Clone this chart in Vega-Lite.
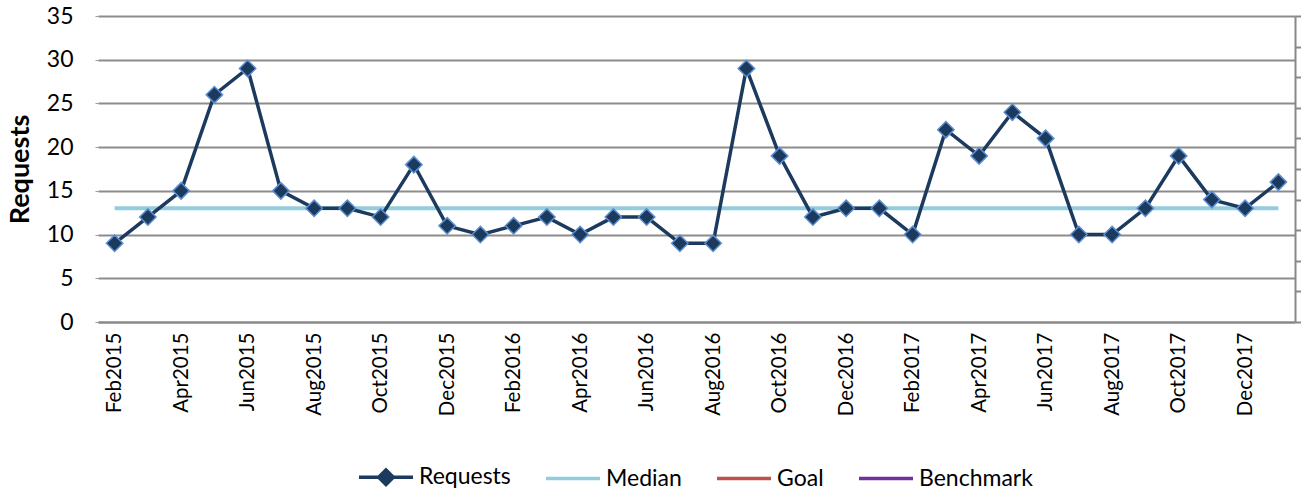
{
  "$schema": "https://vega.github.io/schema/vega-lite/v6.json",
  "width": 1197,
  "height": 306,
  "autosize": "none",
  "padding": {"left": 98, "top": 16, "right": 6, "bottom": 169},
  "config": {
    "font": "Lato",
    "view": {"stroke": null},
    "axis": {"labelFont": "Lato", "titleFont": "Lato", "labelColor": "#000000", "titleColor": "#000000"}
  },
  "datasets": {
    "requests": [
      {"month": "Feb2015", "series": "Requests", "value": 9},
      {"month": "Mar2015", "series": "Requests", "value": 12},
      {"month": "Apr2015", "series": "Requests", "value": 15},
      {"month": "May2015", "series": "Requests", "value": 26},
      {"month": "Jun2015", "series": "Requests", "value": 29},
      {"month": "Jul2015", "series": "Requests", "value": 15},
      {"month": "Aug2015", "series": "Requests", "value": 13},
      {"month": "Sep2015", "series": "Requests", "value": 13},
      {"month": "Oct2015", "series": "Requests", "value": 12},
      {"month": "Nov2015", "series": "Requests", "value": 18},
      {"month": "Dec2015", "series": "Requests", "value": 11},
      {"month": "Jan2016", "series": "Requests", "value": 10},
      {"month": "Feb2016", "series": "Requests", "value": 11},
      {"month": "Mar2016", "series": "Requests", "value": 12},
      {"month": "Apr2016", "series": "Requests", "value": 10},
      {"month": "May2016", "series": "Requests", "value": 12},
      {"month": "Jun2016", "series": "Requests", "value": 12},
      {"month": "Jul2016", "series": "Requests", "value": 9},
      {"month": "Aug2016", "series": "Requests", "value": 9},
      {"month": "Sep2016", "series": "Requests", "value": 29},
      {"month": "Oct2016", "series": "Requests", "value": 19},
      {"month": "Nov2016", "series": "Requests", "value": 12},
      {"month": "Dec2016", "series": "Requests", "value": 13},
      {"month": "Jan2017", "series": "Requests", "value": 13},
      {"month": "Feb2017", "series": "Requests", "value": 10},
      {"month": "Mar2017", "series": "Requests", "value": 22},
      {"month": "Apr2017", "series": "Requests", "value": 19},
      {"month": "May2017", "series": "Requests", "value": 24},
      {"month": "Jun2017", "series": "Requests", "value": 21},
      {"month": "Jul2017", "series": "Requests", "value": 10},
      {"month": "Aug2017", "series": "Requests", "value": 10},
      {"month": "Sep2017", "series": "Requests", "value": 13},
      {"month": "Oct2017", "series": "Requests", "value": 19},
      {"month": "Nov2017", "series": "Requests", "value": 14},
      {"month": "Dec2017", "series": "Requests", "value": 13},
      {"month": "Jan2018", "series": "Requests", "value": 16}
    ],
    "median": [
      {"month": "Feb2015", "series": "Median", "value": 13},
      {"month": "Jan2018", "series": "Median", "value": 13}
    ],
    "right": [
      {"r": 0},
      {"r": 1}
    ]
  },
  "layer": [
    {
      "layer": [
        {
          "data": {"name": "median"},
          "mark": {"type": "line", "strokeWidth": 4, "color": "#93CDDD"},
          "encoding": {
            "x": {
              "field": "month", "type": "nominal", "sort": null,
              "scale": {"type": "point", "padding": 0.5, "domain": ["Feb2015","Mar2015","Apr2015","May2015","Jun2015","Jul2015","Aug2015","Sep2015","Oct2015","Nov2015","Dec2015","Jan2016","Feb2016","Mar2016","Apr2016","May2016","Jun2016","Jul2016","Aug2016","Sep2016","Oct2016","Nov2016","Dec2016","Jan2017","Feb2017","Mar2017","Apr2017","May2017","Jun2017","Jul2017","Aug2017","Sep2017","Oct2017","Nov2017","Dec2017","Jan2018"]},
              "axis": {
                "title": null,
                "values": ["Feb2015","Apr2015","Jun2015","Aug2015","Oct2015","Dec2015","Feb2016","Apr2016","Jun2016","Aug2016","Oct2016","Dec2016","Feb2017","Apr2017","Jun2017","Aug2017","Oct2017","Dec2017"],
                "labelAngle": -90,
                "labelFontSize": 20.5,
                "labelPadding": 10,
                "ticks": false,
                "domainColor": "#888888",
                "domainWidth": 2,
                "grid": false
              }
            },
            "y": {
              "field": "value", "type": "quantitative",
              "scale": {"domain": [0, 35], "nice": false},
              "axis": {
                "title": "Requests",
                "titleFontSize": 27,
                "titleFontWeight": "bold",
                "titlePadding": 12,
                "labelFontSize": 23,
                "labelPadding": 22,
                "values": [0,5,10,15,20,25,30,35],
                "tickSize": 3,
                "tickColor": "#999999",
                "domain": false,
                "grid": true,
                "gridColor": "#8c8c8c",
                "gridWidth": 2
              }
            }
          }
        },
        {
          "data": {"name": "requests"},
          "mark": {"type": "line", "strokeWidth": 3.5, "color": "#1B3A5E"},
          "encoding": {
            "x": {"field": "month", "type": "nominal", "sort": null},
            "y": {"field": "value", "type": "quantitative"}
          }
        },
        {
          "data": {"name": "requests"},
          "mark": {"type": "point", "shape": "diamond", "size": 270, "filled": true, "fill": "#1B3A5E", "stroke": "#5B8ED0", "strokeWidth": 1.5, "opacity": 1},
          "encoding": {
            "x": {"field": "month", "type": "nominal", "sort": null},
            "y": {"field": "value", "type": "quantitative"}
          }
        },
        {
          "data": {"name": "requests"},
          "mark": {"type": "point", "filled": false, "opacity": 0, "strokeWidth": 3.5},
          "encoding": {
            "x": {"field": "month", "type": "nominal", "sort": null},
            "y": {"field": "value", "type": "quantitative"},
            "color": {
              "field": "series", "type": "nominal",
              "scale": {"domain": ["Requests", "Median", "Goal", "Benchmark"], "range": ["#1B3A5E", "#93CDDD", "#C0504D", "#7030A0"]},
              "legend": {
                "title": null,
                "orient": "none",
                "direction": "horizontal",
                "legendX": 259,
                "legendY": 432,
                "labelFontSize": 23,
                "labelFont": "Lato",
                "labelColor": "#000000",
                "symbolSize": 2916,
                "symbolStrokeWidth": 3.5,
                "symbolOpacity": 1,
                "labelOffset": 4,
                "columnPadding": 28
              }
            },
            "shape": {
              "field": "series", "type": "nominal",
              "scale": {"domain": ["Requests", "Median", "Goal", "Benchmark"], "range": ["M-1,0H1M-0.27,0L0,-0.27L0.27,0L0,0.27ZM-0.19,0L0,-0.19L0.19,0L0,0.19ZM-0.11,0L0,-0.11L0.11,0L0,0.11ZM-0.04,0L0,-0.04L0.04,0L0,0.04Z", "M-1,0H1", "M-1,0H1", "M-1,0H1"]},
              "legend": {
                "title": null,
                "orient": "none",
                "direction": "horizontal",
                "legendX": 259,
                "legendY": 432,
                "labelFontSize": 23,
                "labelFont": "Lato",
                "labelColor": "#000000",
                "symbolSize": 2916,
                "symbolStrokeWidth": 3.5,
                "symbolOpacity": 1,
                "labelOffset": 4,
                "columnPadding": 28
              }
            }
          }
        }
      ]
    },
    {
      "data": {"name": "right"},
      "mark": {"type": "rule", "opacity": 0},
      "encoding": {
        "y": {
          "field": "r", "type": "quantitative",
          "scale": {"domain": [0, 1], "nice": false},
          "axis": {
            "orient": "right",
            "title": null,
            "labels": false,
            "values": [0,0.1,0.2,0.3,0.4,0.5,0.6,0.7,0.8,0.9,1],
            "tickSize": 7,
            "tickColor": "#888888",
            "tickWidth": 2,
            "domainColor": "#888888",
            "domainWidth": 2,
            "grid": false
          }
        }
      }
    }
  ],
  "resolve": {"scale": {"y": "independent"}}
}
